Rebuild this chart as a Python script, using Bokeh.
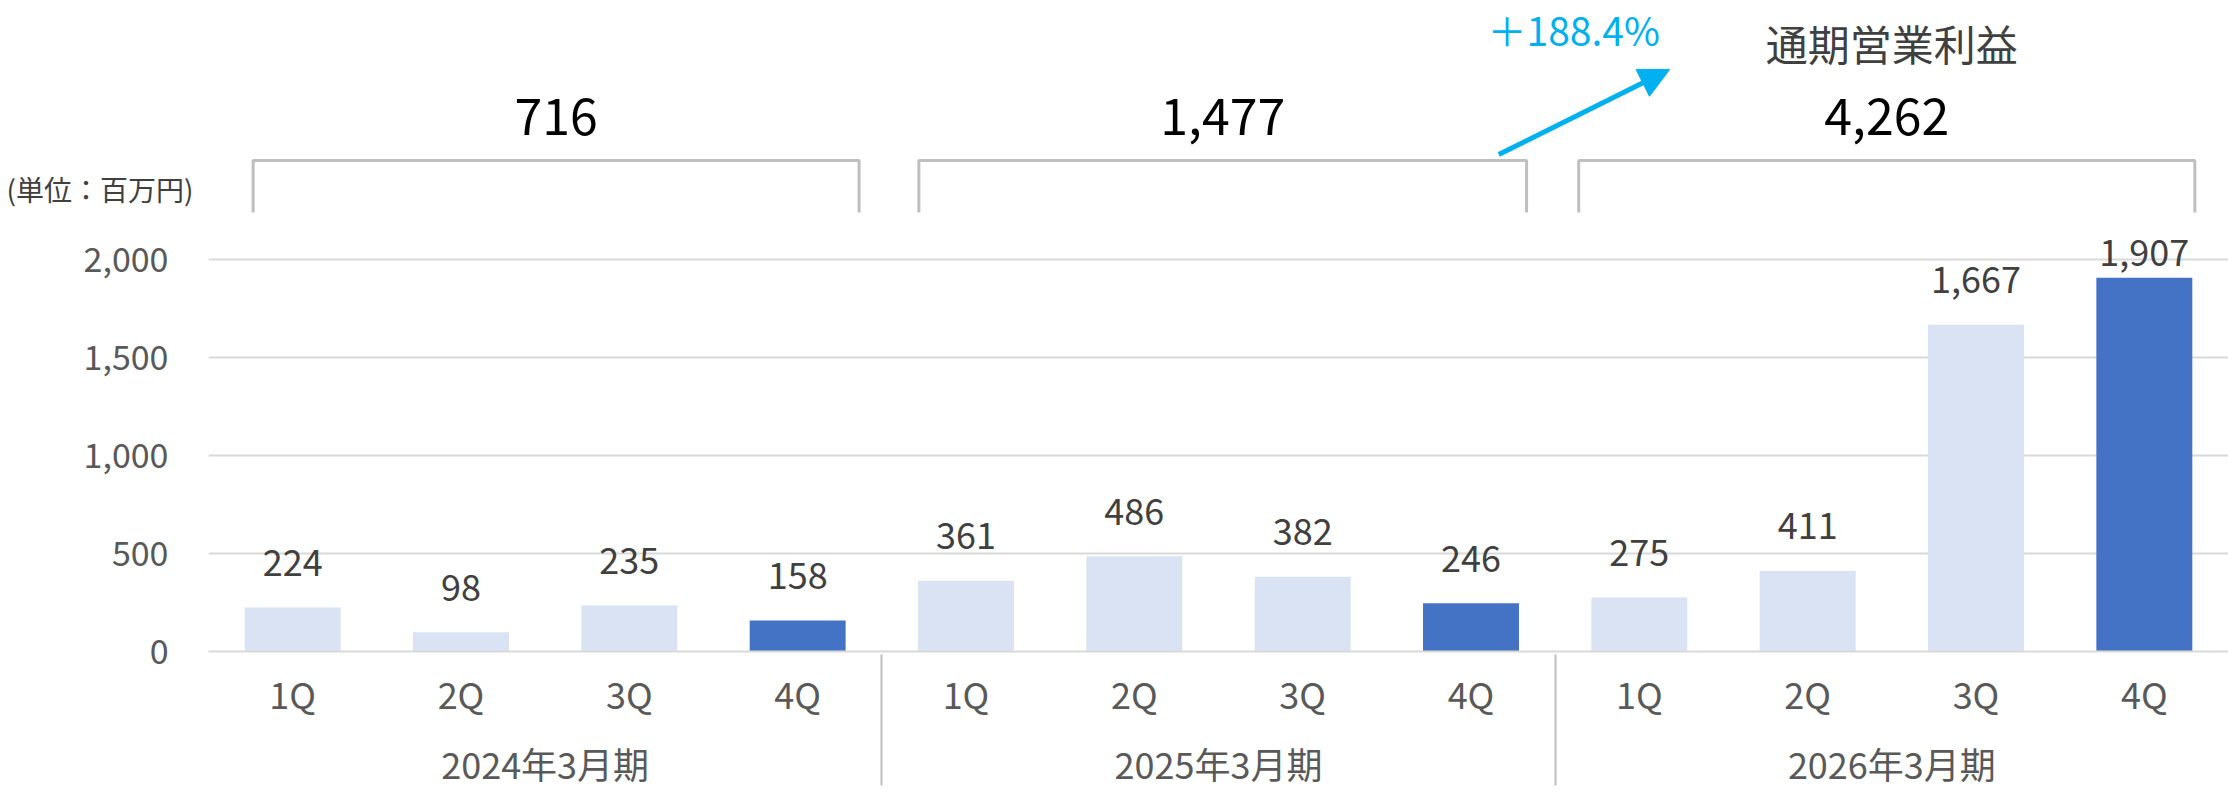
import numpy as np
from bokeh.plotting import figure
from bokeh.layouts import column
from bokeh.models import (FactorRange, Range1d, FixedTicker, NumeralTickFormatter,
                          Arrow, NormalHead, ColumnDataSource)
from bokeh.core.properties import value
from bokeh.embed import file_html
from bokeh.resources import INLINE

# ---------------- data ----------------
periods = ["2024年3月期", "2025年3月期", "2026年3月期"]
quarters = ["1Q", "2Q", "3Q", "4Q"]
profit_2024 = [224, 98, 235, 158]
profit_2025 = [361, 486, 382, 246]
profit_2026 = [275, 411, 1667, 1907]
annual_totals = [716, 1477, 4262]
annual_title = "通期営業利益"
growth_label = "＋188.4%"
unit_label = "(単位：百万円)"
y_ticks = [0, 500, 1000, 1500, 2000]

# ---------------- style / layout ----------------
FONT = "Noto Sans CJK JP"
LIGHT = "#DAE3F3"
DARK = "#4472C4"
CYAN = "#00B0F0"
W, H = 2228, 802
HEADER_H = 215                 # header strip (annual totals, brackets, notes)
MAIN_H = H - HEADER_H
LEFT, BOTTOM = 208, 151
ZERO_Y = 651                   # page y of the zero line
frame_h = MAIN_H - BOTTOM
px_per_unit = 392 / 2000.0
y_top = frame_h / px_per_unit
MID_SHIFT = 0.03


def dy(page_y):
    return (ZERO_Y - page_y) / px_per_unit


# ---------------- main chart ----------------
factors = [(per, q) for per in periods for q in quarters]
vals = np.array(profit_2024 + profit_2025 + profit_2026, dtype=float)
colors = [DARK if q == "4Q" else LIGHT for (_, q) in factors]
VAL_FS = 36
label_y = np.minimum(vals + (43.5 + MID_SHIFT * VAL_FS) / px_per_unit,
                     dy(254 - MID_SHIFT * VAL_FS))
labels = [f"{int(v):,}" for v in vals]
src = ColumnDataSource(dict(x=factors, top=vals, color=colors, ly=label_y, lab=labels))

x_range = FactorRange(*factors, range_padding=0, group_padding=0, factor_padding=0,
                      subgroup_padding=0)
p = figure(x_range=x_range, y_range=Range1d(0, y_top), width=W, height=MAIN_H,
           output_backend="svg", toolbar_location=None,
           min_border_left=LEFT, min_border_right=0, min_border_top=0,
           min_border_bottom=BOTTOM)
p.outline_line_color = None
p.border_fill_color = "white"

p.vbar(x="x", top="top", width=0.57, fill_color="color", line_color=None, source=src)
p.text(x="x", y="ly", text="lab", source=src, text_align="center",
       text_baseline="middle", text_font=value(FONT), text_font_size=f"{VAL_FS}px",
       text_color="#404040")

p.xgrid.grid_line_color = None
p.ygrid.grid_line_color = "#D9D9D9"
p.ygrid.grid_line_width = 2

ya = p.yaxis[0]
ya.ticker = FixedTicker(ticks=y_ticks)
ya.formatter = NumeralTickFormatter(format="0,0")
ya.axis_line_color = None
ya.major_tick_line_color = None
ya.minor_tick_line_color = None
ya.major_tick_out = 0
ya.major_label_standoff = 40
ya.major_label_text_font = FONT
ya.major_label_text_font_size = "34px"
ya.major_label_text_color = "#595959"

xa = p.xaxis[0]
xa.axis_line_color = "#D9D9D9"
xa.axis_line_width = 2
xa.major_tick_line_color = None
xa.minor_tick_line_color = None
xa.major_tick_out = 0
xa.major_label_standoff = 15
xa.major_label_text_font = FONT
xa.major_label_text_font_size = "36px"
xa.major_label_text_color = "#595959"
xa.group_text_font = FONT
xa.group_text_font_size = "36px"
xa.group_text_color = "#595959"
xa.group_text_font_style = "normal"
xa.separator_line_color = "#BFBFBF"
xa.separator_line_width = 2

# ---------------- header strip (same x slots, page-pixel y) ----------------
UNIT_Y = 188
hd = figure(x_range=Range1d(0, 12), y_range=Range1d(HEADER_H, 0),
            width=W, height=HEADER_H, output_backend="svg", toolbar_location=None,
            x_axis_type=None,
            min_border_left=LEFT, min_border_right=0, min_border_top=0, min_border_bottom=0)
hd.outline_line_color = None
hd.grid.visible = False
hy = hd.yaxis[0]
hy.ticker = FixedTicker(ticks=[UNIT_Y])
hy.major_label_overrides = {UNIT_Y: unit_label}
hy.axis_line_color = None
hy.major_tick_line_color = None
hy.minor_tick_line_color = None
hy.major_tick_out = 0
hy.major_label_standoff = 15
hy.major_label_text_font = FONT
hy.major_label_text_font_size = "28px"
hy.major_label_text_color = "#404040"

br_left = [0.265, 4.22, 8.14]
br_right = [3.865, 7.83, 11.8]
bxs = [[l, l, r, r] for l, r in zip(br_left, br_right)]
bys = [[212, 160, 160, 212] for _ in br_left]
hd.multi_line(xs=bxs, ys=bys, line_color="#BFBFBF", line_width=3)
tot_x = [(l + r) / 2 for l, r in zip(br_left, br_right)]
hd.text(x=tot_x, y=[117 - MID_SHIFT * 50] * 3, text=[f"{t:,}" for t in annual_totals],
        text_align="center", text_baseline="middle", text_font=value(FONT),
        text_font_size="50px", text_color="#000000")
hd.text(x=[10.0], y=[43 - MID_SHIFT * 42], text=[annual_title], text_align="center",
        text_baseline="middle", text_font=value(FONT), text_font_size="42px",
        text_color="#404040")
hd.text(x=[8.11], y=[30 - MID_SHIFT * 39], text=[growth_label], text_align="center",
        text_baseline="middle", text_font=value(FONT), text_font_size="39px",
        text_color=CYAN)
hd.add_layout(Arrow(x_start=7.665, y_start=154, x_end=8.68, y_end=69,
                    line_color=CYAN, line_width=5,
                    end=NormalHead(size=30, fill_color=CYAN, line_color=CYAN)))

layout = column(hd, p, spacing=0)
open("out.html", "w").write(file_html(layout, INLINE))
